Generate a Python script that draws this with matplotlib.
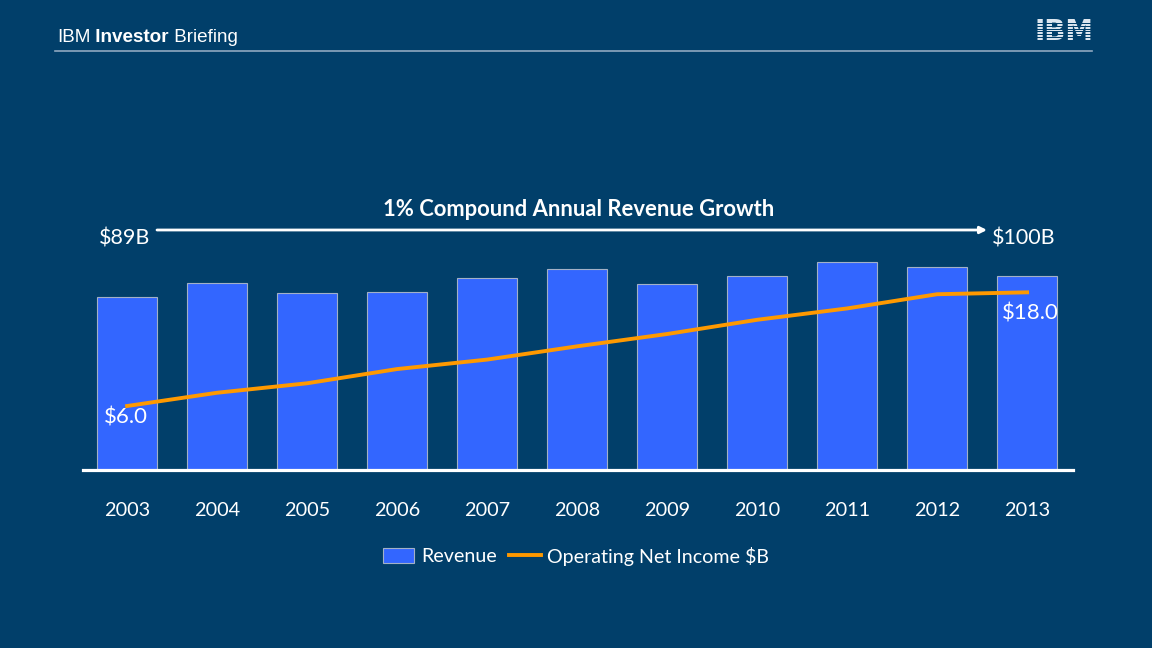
import matplotlib
matplotlib.use("Agg")
import matplotlib.pyplot as plt
from matplotlib.patches import Rectangle, Patch
from matplotlib.lines import Line2D

# data
years = ["2003", "2004", "2005", "2006", "2007", "2008",
         "2009", "2010", "2011", "2012", "2013"]
revenue = [89.1, 96.3, 91.1, 91.4, 98.8, 103.6, 95.8, 99.9, 106.9, 104.5, 99.8]
net_income = [6.0, 7.4, 8.4, 9.9, 10.9, 12.3, 13.6, 15.1, 16.3, 17.8, 18.0]

BG = "#013F6A"
BAR = "#3366FF"
ORANGE = "#FF9900"
FONT = "Lato"

W, H = 1152, 648


def fx(x):
    return x / W


def fy(y):
    return 1 - y / H


fig = plt.figure(figsize=(11.52, 6.48), dpi=100, facecolor=BG)
renderer = fig.canvas.get_renderer()

# header, pieces placed one after another
x_pos = 57
for word, weight in [("IBM", "normal"), (" Investor", "bold"), (" Briefing", "normal")]:
    t = fig.text(fx(x_pos), fy(38), word, family="Liberation Sans", fontsize=13.6,
                 color="white", va="center", ha="left", weight=weight)
    x_pos += t.get_window_extent(renderer).width
fig.add_artist(Line2D([fx(55), fx(1092)], [fy(51), fy(51)], color="#8FA8C0",
                      lw=1.2, transform=fig.transFigure))

# IBM logo: bold letters with horizontal stripes cut through
fig.text(fx(1064), fy(32.5), "IBM", family="DejaVu Sans", weight="bold",
         fontsize=20, color="#DCE6EF", ha="center", va="center", zorder=3)
for k in range(8):
    y0 = 22 + k * 2.75
    fig.add_artist(Rectangle((fx(1030), fy(y0 + 2.2)), fx(70), 1.0 / H,
                             transform=fig.transFigure, color=BG, lw=0, zorder=4))

ax = fig.add_axes([fx(83), fy(470), fx(990), 240 / H])
ax.set_facecolor(BG)
x = list(range(len(years)))
ax.bar(x, revenue, width=0.667, color=BAR, edgecolor="#A3B1C6", linewidth=0.8,
       zorder=2)
ax.set_xlim(-0.49, 10.51)
ax.set_ylim(0, 123.5)
ax.set_xticks(x)
ax.set_xticklabels(years, family=FONT, fontsize=14.3, color="white")
ax.tick_params(axis="x", length=0, pad=23)
ax.set_yticks([])
for s in ["top", "left", "right"]:
    ax.spines[s].set_visible(False)
ax.spines["bottom"].set_color("white")
ax.spines["bottom"].set_linewidth(2.3)
ax.spines["bottom"].set_zorder(5)

ax2 = ax.twinx()
ax2.plot(x, net_income, color=ORANGE, lw=2.8, zorder=3)
ax2.set_ylim(-0.755, 24.58)
ax2.set_yticks([])
for s in ax2.spines.values():
    s.set_visible(False)

ax2.annotate(f"${net_income[0]:.1f}", (x[0], net_income[0]), xytext=(-17, -8),
             textcoords="offset points", ha="left", va="center",
             family=FONT, fontsize=16, color="white")
ax2.annotate(f"${net_income[-1]:.1f}", (x[-1], net_income[-1]), xytext=(-18, -15),
             textcoords="offset points", ha="left", va="center",
             family=FONT, fontsize=16, color="white")

# growth arrow
fig.text(fx(579), fy(209), "1% Compound Annual Revenue Growth", family=FONT,
         weight="bold", fontsize=15.8, color="white", ha="center", va="center")
fig.text(fx(150), fy(238), "$89B", family=FONT, fontsize=15.5, color="white",
         ha="right", va="center")
fig.text(fx(992), fy(238), "$100B", family=FONT, fontsize=15.5, color="white",
         ha="left", va="center")
ax.annotate("", xy=(fx(987), fy(230)), xytext=(fx(157), fy(230)),
            xycoords="figure fraction", textcoords="figure fraction",
            arrowprops=dict(arrowstyle="-|>", color="white", lw=2,
                            mutation_scale=10, shrinkA=0, shrinkB=0))

handles = [Patch(facecolor=BAR, edgecolor="#A3B1C6", linewidth=0.8),
           Line2D([], [], color=ORANGE, lw=2.8)]
leg = fig.legend(handles, ["Revenue", "Operating Net Income $B"],
                 loc="center", bbox_to_anchor=(fx(576), fy(556)), ncol=2,
                 frameon=False, handlelength=1.6, handleheight=0.75,
                 handletextpad=0.35, columnspacing=0.65,
                 prop={"family": FONT, "size": 14.1})
for t in leg.get_texts():
    t.set_color("white")

fig.savefig("out.png", dpi=100, facecolor=BG)
